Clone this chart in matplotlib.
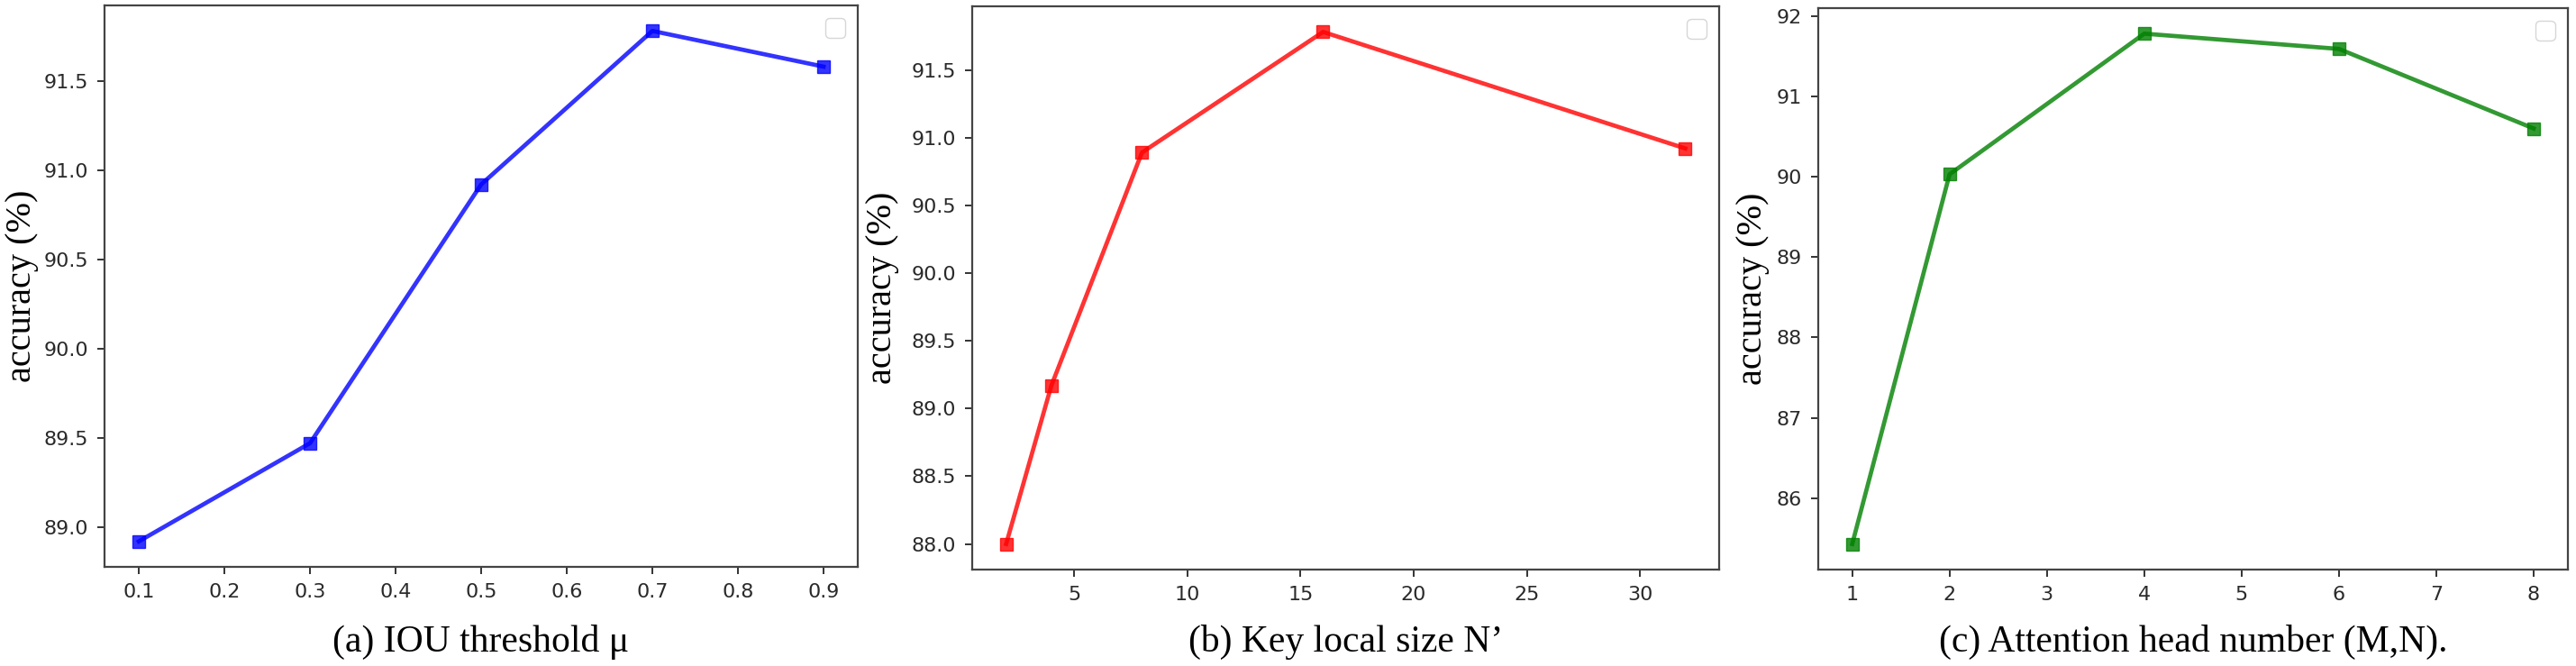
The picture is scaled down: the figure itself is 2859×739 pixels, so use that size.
# three-panel ablation plot: accuracy vs hyper-parameter
import matplotlib
matplotlib.use("Agg")
import matplotlib.pyplot as plt
from matplotlib.ticker import MultipleLocator

# (a) IOU threshold
iou_x = [0.1, 0.3, 0.5, 0.7, 0.9]
iou_acc = [88.92, 89.47, 90.92, 91.78, 91.58]

# (b) key local size
key_x = [2, 4, 8, 16, 32]
key_acc = [88.00, 89.17, 90.89, 91.78, 90.92]

# (c) attention head number
head_x = [1, 2, 4, 6, 8]
head_acc = [85.43, 90.03, 91.78, 91.59, 90.60]

captions = ["(a) IOU threshold \u03bc",
            "(b) Key local size N\u2019",
            "(c) Attention head number (M,N)."]

serif = ["Liberation Serif", "DejaVu Serif"]

fig = plt.figure(figsize=(28.59, 7.39), dpi=100)

# axes boxes (figure fractions)
boxes = [[0.0406, 0.1488, 0.2924, 0.8431],
         [0.3774, 0.1448, 0.2900, 0.8457],
         [0.7058, 0.1448, 0.2910, 0.8430]]
label_x = [-0.088, -0.098, -0.065]
ysteps = [0.5, 0.5, 1]

panels = [(iou_x, iou_acc, "blue"), (key_x, key_acc, "red"), (head_x, head_acc, "green")]

for i, (x, y, c) in enumerate(panels):
    ax = fig.add_axes(boxes[i])
    ax.plot(x, y, color=c, marker="s", markersize=10.5, linewidth=3.4, alpha=0.8)
    ax.yaxis.set_major_locator(MultipleLocator(ysteps[i]))
    if i == 0:
        ax.xaxis.set_major_locator(MultipleLocator(0.1))
    ax.tick_params(labelsize=16, labelcolor="#2a2a2a", color="#333333",
                   length=6, width=1.4, pad=7)
    for s in ax.spines.values():
        s.set_color("#444444")
        s.set_linewidth(1.6)
    ax.set_ylabel("accuracy (%)", family=serif, fontsize=29)
    ax.yaxis.set_label_coords(label_x[i], 0.5)
    ax.legend(handles=[], loc="upper right", fontsize=20)
    cx = boxes[i][0] + boxes[i][2] / 2
    fig.text(cx, 0.0365, captions[i], family=serif, fontsize=30,
             ha="center", va="center")

fig.savefig("out.png", dpi=100)
